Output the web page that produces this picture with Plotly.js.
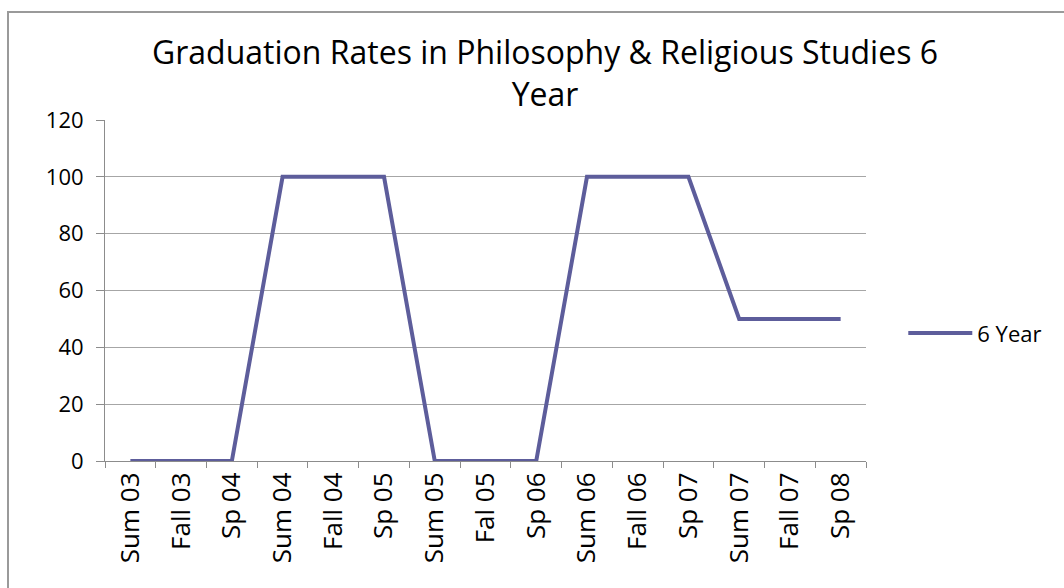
<!DOCTYPE html>
<html>
<head>
<meta charset="utf-8">
<script src="https://cdn.plot.ly/plotly-3.0.1.min.js"></script>
<style>
  html, body { margin: 0; padding: 0; background: #fff; }
  #wrap { position: relative; width: 1064px; height: 588px; overflow: hidden; }
  #chart { position: absolute; left: 0; top: 0; width: 1064px; height: 588px; }
  #frame { position: absolute; left: 7px; top: 11px; width: 1100px; height: 700px;
           border-left: 2px solid #9a9a9a; border-top: 2px solid #9a9a9a; pointer-events: none; }
</style>
</head>
<body>
<div id="wrap">
  <div id="chart"></div>
  <div id="frame"></div>
</div>
<script>
const categories = ["Sum 03", "Fall 03", "Sp 04", "Sum 04", "Fall 04", "Sp 05", "Sum 05", "Fal 05",
                    "Sp 06", "Sum 06", "Fall 06", "Sp 07", "Sum 07", "Fall 07", "Sp 08"];
const sixYear = [0, 0, 0, 100, 100, 100, 0, 0, 0, 100, 100, 100, 50, 50, 50];
const seriesName = "6 Year";
const titleText = "Graduation Rates in Philosophy & Religious Studies 6<br>Year";
const yTicks = [0, 20, 40, 60, 80, 100, 120];

const FONT = "Open Sans, sans-serif";

const trace = {
  type: "scatter",
  mode: "lines",
  x: categories,
  y: sixYear,
  name: seriesName,
  line: { color: "#5d5d9b", width: 4 },
  showlegend: true
};

const layout = {
  width: 1064,
  height: 588,
  paper_bgcolor: "rgba(0,0,0,0)",
  plot_bgcolor: "rgba(0,0,0,0)",
  margin: { l: 105, r: 198, t: 120, b: 127 },
  font: { family: FONT, color: "#000" },
  title: {
    text: titleText,
    font: { family: FONT, size: 32, color: "#000" },
    x: 545 / 1064,
    xref: "container",
    xanchor: "center",
    y: 1 - 64 / 588,
    yref: "container",
    yanchor: "top"
  },
  xaxis: {
    type: "category",
    range: [-0.5, 14.5],
    tickangle: -90,
    tickfont: { family: FONT, size: 26, color: "#000" },
    ticks: "outside",
    tickson: "boundaries",
    ticklen: 6,
    tickcolor: "#8c8c8c",
    showline: true,
    linecolor: "#8c8c8c",
    linewidth: 1,
    showgrid: false,
    zeroline: false,
    automargin: false
  },
  yaxis: {
    range: [0, 120],
    tickvals: yTicks,
    ticktext: yTicks.map(String),
    tickfont: { family: FONT, size: 22, color: "#000" },
    ticks: "outside",
    ticklen: 8,
    tickcolor: "#8c8c8c",
    ticklabelstandoff: 8,
    showline: true,
    linecolor: "#8c8c8c",
    linewidth: 1,
    showgrid: true,
    gridcolor: "#a6a6a6",
    gridwidth: 1,
    zeroline: false,
    automargin: false
  },
  legend: {
    x: 1.049,
    xanchor: "left",
    y: 0.375,
    yanchor: "middle",
    itemwidth: 64,
    font: { family: FONT, size: 22, color: "#000" },
    bgcolor: "rgba(0,0,0,0)"
  },
  showlegend: true
};

Plotly.newPlot("chart", [trace], layout, { displayModeBar: false, staticPlot: true });
</script>
</body>
</html>
